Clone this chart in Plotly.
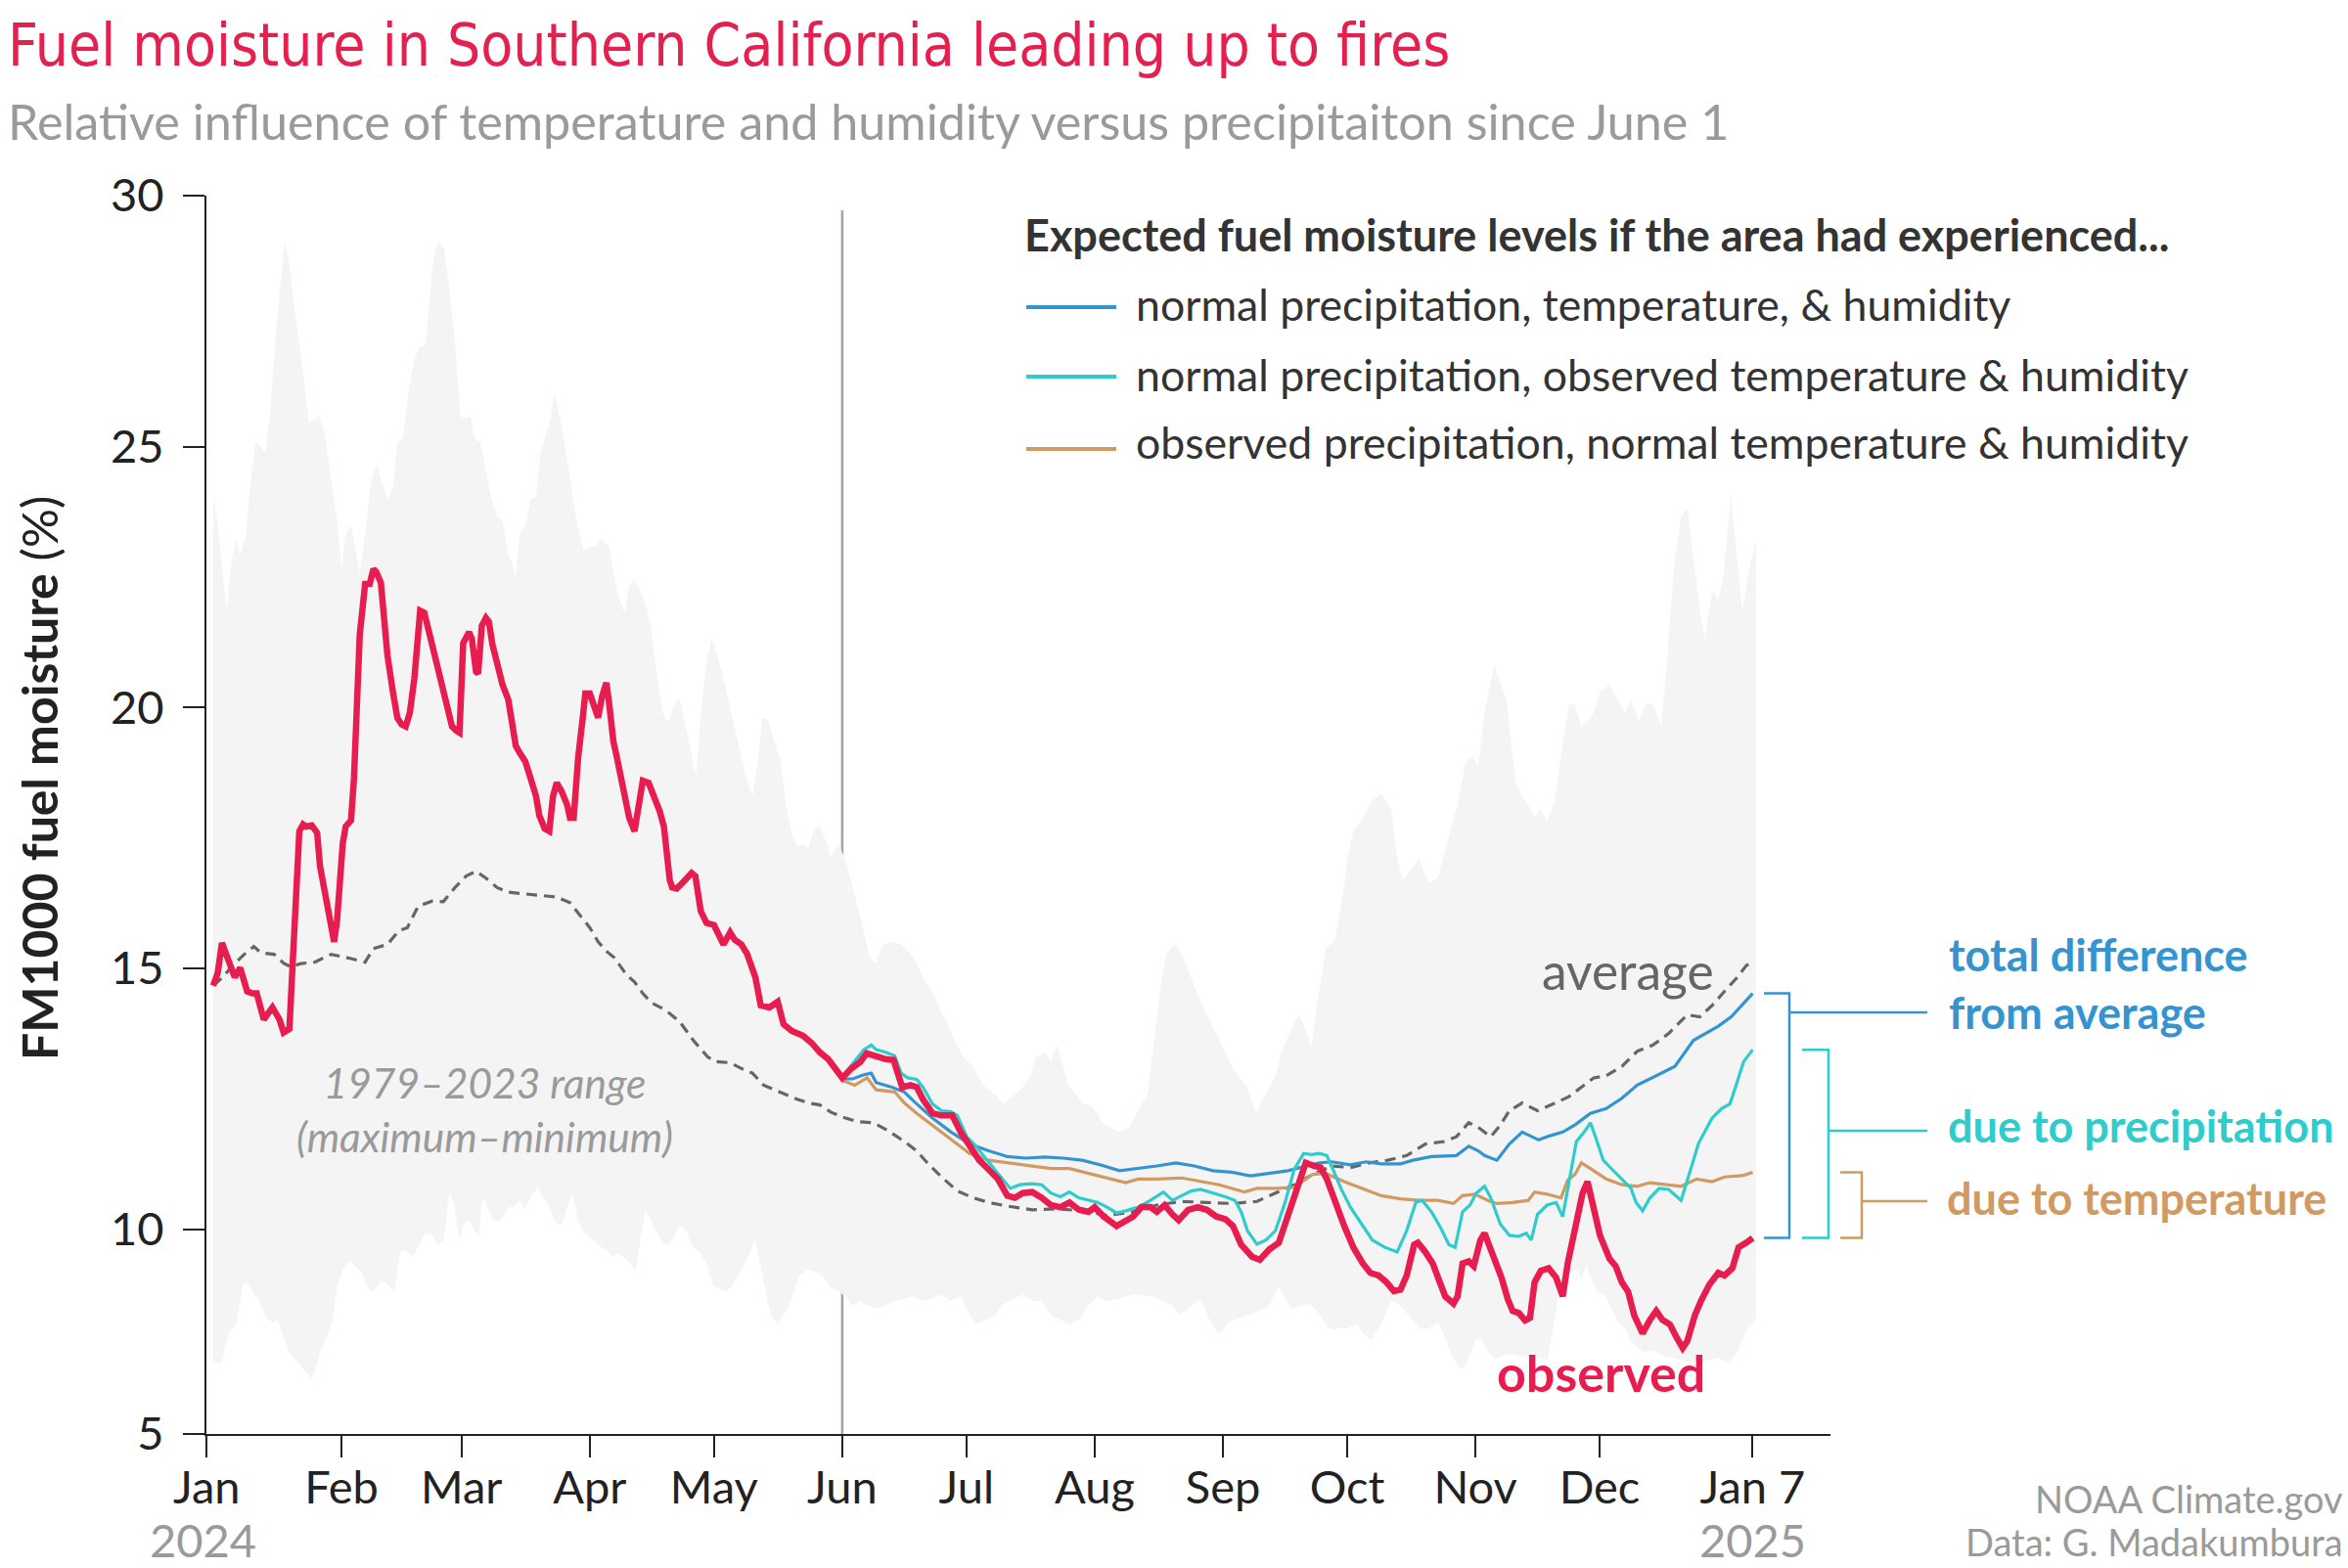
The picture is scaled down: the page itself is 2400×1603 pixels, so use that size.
import datetime as dt
import plotly.graph_objects as go

BASE = dt.datetime(2024, 1, 1)

# ---------------- data (day offsets from 2024-01-01, FM1000 fuel moisture %) -------------
obs_days = [0, 1.1, 2.1, 3.1, 5.2, 6.5, 8.2, 9.5, 10.5, 12.2, 14.3, 16, 17, 18.4, 19.7, 20.4, 20.8,
            21.7, 22.4, 23.8, 25.1, 25.8, 28.5, 29.2, 29.9, 30.6, 31.3, 32, 33.3, 34, 35.4, 36.7,
            37.8, 38.7, 39.4, 40.5, 41.4, 42.1, 43.4, 44.5, 45.5, 46.5, 47.5, 48.6, 50, 51, 51.9,
            53, 54.3, 55.7, 57, 57.7, 58.7, 59.5, 60.4, 61.8, 62.5, 63.5, 64, 64.9, 65.9, 66.6,
            67.5, 68.6, 69.9, 71.3, 72.2, 73.1, 74, 75.4, 76.7, 78, 78.8, 80.1, 81.2, 82.1, 83,
            84.2, 85.5, 86.2, 87.1, 88.2, 89.3, 89.9, 91, 92, 93, 94, 95, 95.7, 96.7, 97.5, 98.4,
            99.4, 100.5, 101.8, 102.9, 103.8, 105.2, 106.6, 107.9, 108.9, 109.7, 110.3, 110.9,
            112, 113.4, 115.6, 116.5, 117.8, 119.2, 121, 123.3, 124.9, 126, 127.6, 129, 131,
            132.3, 134.4, 136.4, 137.8, 139.8, 142.5, 144.6, 146.6, 148.6, 150.7, 152, 154.2,
            156.4, 157.9, 160.2, 162.5, 164.4, 165.5, 166.5, 168.5, 170, 171.5, 173.8, 176,
            178.6, 180.6, 182.8, 185.1, 187.4, 189.6, 191.9, 193.7, 195.6, 197.9, 200.2, 202.4,
            204.7, 206.9, 209.2, 211.5, 213, 215.2, 218.3, 220.5, 222.3, 224.3, 226.5, 228,
            229.9, 231.8, 233.3, 235.6, 237.9, 240.1, 242.4, 244.6, 246.4, 248.4, 251, 252.9,
            255.2, 257.5, 259.7, 262, 264, 266, 267.6, 269.1, 271, 273.3, 275.5, 277.8, 279.6,
            281.6, 283.5, 285.3, 286.9, 288.4, 290.2, 291.1, 292.9, 294.7, 296.2, 297.7, 299.7,
            300.7, 301.9, 303.4, 304.6, 306.2, 307.2, 308.3, 309.8, 311.3, 312.8, 314, 315.5,
            317, 318.2, 319.3, 320.8, 322.7, 324.5, 326.1, 327.3, 329.1, 330.9, 332.1, 333.3,
            335.1, 337.4, 338.9, 340.4, 341.9, 343.4, 345.4, 347.2, 348.7, 350.2, 352, 353.5,
            355.1, 356.2, 358, 359.5, 361.5, 363.7, 365.2, 367.1, 368.6, 370.5, 372]
obs_vals = [14.67, 14.92, 15.49, 15.28, 14.83, 15.01, 14.56, 14.52, 14.52, 14.02, 14.25, 14.02, 13.77,
            13.84, 15.82, 16.73, 17.63, 17.76, 17.72, 17.74, 17.6, 16.96, 15.73, 15.51, 15.9, 16.73,
            17.4, 17.72, 17.84, 18.64, 21.4, 22.37, 22.37, 22.66, 22.6, 22.4, 21.57, 21.0, 20.31,
            19.8, 19.68, 19.64, 19.9, 20.56, 21.86, 21.82, 21.53, 21.15, 20.73, 20.31, 19.85, 19.64,
            19.56, 19.52, 21.24, 21.45, 21.32, 20.69, 20.65, 21.57, 21.72, 21.65, 21.2, 20.82, 20.44,
            20.15, 19.64, 19.27, 19.14, 18.97, 18.64, 18.3, 17.93, 17.68, 17.63, 18.3, 18.56, 18.39,
            18.14, 17.89, 17.89, 19.06, 19.81, 20.27, 20.27, 20.02, 19.81, 20.23, 20.48, 20.06, 19.35,
            19.06, 18.72, 18.3, 17.89, 17.63, 18.14, 18.6, 18.56, 18.3, 18.01, 17.72, 17.13, 16.7,
            16.55, 16.53, 16.64, 16.83, 16.77, 16.1, 15.87, 15.83, 15.46, 15.69, 15.55, 15.46, 15.28,
            14.83, 14.29, 14.25, 14.36, 13.93, 13.8, 13.71, 13.57, 13.39, 13.26, 13.03, 12.9, 13.08,
            13.21, 13.37, 13.3, 13.26, 13.24, 12.94, 12.72, 12.76, 12.72, 12.49, 12.22, 12.18, 12.18,
            11.86, 11.59, 11.32, 11.14, 10.96, 10.64, 10.6, 10.69, 10.71, 10.6, 10.46, 10.42, 10.51,
            10.37, 10.33, 10.42, 10.24, 10.06, 10.15, 10.24, 10.42, 10.42, 10.33, 10.46, 10.28, 10.17,
            10.37, 10.42, 10.37, 10.24, 10.19, 10.06, 9.7, 9.47, 9.41, 9.61, 9.74, 10.24, 10.78, 11.27,
            11.21, 11.18, 10.96, 10.51, 10.06, 9.65, 9.34, 9.16, 9.11, 8.98, 8.81, 8.84, 9.11, 9.7,
            9.74, 9.56, 9.34, 9.02, 8.71, 8.57, 8.71, 9.34, 9.38, 9.29, 9.79, 9.92, 9.7, 9.43, 9.07,
            8.66, 8.43, 8.39, 8.25, 8.3, 8.98, 9.2, 9.25, 9.07, 8.71, 9.34, 10.06, 10.69, 10.91, 10.51,
            9.88, 9.43, 9.29, 8.98, 8.8, 8.34, 8.0, 8.26, 8.43, 8.26, 8.17, 7.94, 7.72, 7.85, 8.34,
            8.62, 8.93, 9.16, 9.11, 9.25, 9.65, 9.74, 9.83]

avg_days = [0, 2.1, 4.8, 7.5, 9.8, 11.5, 14.7, 17, 18.7, 21.1, 24.5, 28.5, 32.6, 36.7, 38.7, 42.1,
            44.8, 46.9, 49.5, 52.9, 55.6, 58.4, 61.1, 63.5, 65.9, 68.6, 71.3, 74.7, 78.8, 82.8,
            86.2, 88.2, 91, 93, 95, 97, 99.8, 101.8, 103.8, 105.9, 109.3, 112.7, 116, 119.5, 121.5,
            124.9, 127.6, 130.3, 133, 135.7, 138.4, 141.1, 143.8, 146.6, 149.3, 152, 155.7, 159.5,
            163.2, 167, 170, 173, 176, 179.8, 183.6, 187.4, 191.9, 197.9, 204, 210, 216, 222, 228,
            234.1, 240.1, 246.1, 252.2, 256.7, 261.2, 265.7, 270.3, 274.8, 279.3, 283.8, 288.4,
            292.9, 297.4, 300.4, 303.4, 305.7, 308.7, 311, 313.2, 316.3, 320, 323.8, 327.6, 330.6,
            333.6, 336.6, 340.4, 344.1, 347.9, 351.7, 356.2, 359.2, 362.2, 365.2, 368.3, 370.5, 372]
avg_vals = [14.67, 14.82, 15.06, 15.27, 15.42, 15.3, 15.27, 15.1, 15.03, 15.09, 15.12, 15.27, 15.2,
            15.12, 15.38, 15.46, 15.72, 15.78, 16.19, 16.29, 16.28, 16.55, 16.77, 16.86, 16.73, 16.55,
            16.46, 16.43, 16.4, 16.37, 16.26, 16.05, 15.78, 15.51, 15.33, 15.2, 14.88, 14.74, 14.52,
            14.34, 14.2, 13.98, 13.62, 13.3, 13.21, 13.19, 13.08, 12.99, 12.76, 12.67, 12.58, 12.49,
            12.42, 12.38, 12.24, 12.15, 12.06, 12.04, 11.88, 11.68, 11.5, 11.23, 11.0, 10.73, 10.6,
            10.51, 10.44, 10.37, 10.39, 10.35, 10.26, 10.33, 10.46, 10.53, 10.51, 10.49, 10.53, 10.69,
            10.85, 11.05, 11.21, 11.18, 11.27, 11.32, 11.41, 11.63, 11.68, 11.77, 12.04, 11.95, 11.77,
            11.99, 12.27, 12.42, 12.27, 12.4, 12.54, 12.72, 12.9, 12.94, 13.12, 13.41, 13.53, 13.75,
            14.11, 14.07, 14.29, 14.56, 14.83, 15.06, 15.1]

blue_days = [152, 154.5, 157.2, 159, 160.2, 164, 167, 169.3, 173.8, 178.3, 182.8, 187.4, 191.9,
             196.4, 200.9, 205.4, 210, 214.5, 219, 223.5, 228, 232.6, 237.1, 241.6, 246.1, 250.7,
             255.2, 259.7, 264.2, 267.3, 270.3, 274.8, 278.6, 282.3, 286.9, 289.9, 294.4, 300.4,
             303.4, 305.7, 307.2, 310.2, 313.2, 316.3, 320.3, 323, 326.1, 329.1, 332.8, 336.6,
             340.4, 344.1, 348.7, 353.2, 357.7, 360.7, 363.7, 366.8, 369.8, 372]
blue_vals = [12.88, 12.88, 12.96, 12.99, 12.81, 12.72, 12.63, 12.45, 12.13, 11.86, 11.63, 11.5, 11.39,
             11.36, 11.38, 11.36, 11.32, 11.23, 11.12, 11.16, 11.21, 11.27, 11.21, 11.12, 11.09, 11.02,
             11.07, 11.12, 11.21, 11.27, 11.29, 11.23, 11.29, 11.25, 11.25, 11.32, 11.39, 11.41, 11.59,
             11.5, 11.41, 11.32, 11.63, 11.86, 11.71, 11.79, 11.86, 12.0, 12.22, 12.31, 12.51, 12.76,
             12.94, 13.12, 13.62, 13.75, 13.89, 14.07, 14.34, 14.52]

cyan_days = [152, 155, 157.2, 159, 160.2, 162.5, 164.7, 166.2, 167.8, 170, 171.5, 173.8, 176, 178.3,
             179.8, 182.1, 184.3, 186.6, 189.6, 192.6, 194.9, 197.9, 200.2, 202.4, 204.7, 206.9,
             209.2, 211.5, 213.7, 216, 218.3, 220.5, 223.5, 226.5, 229.6, 231.8, 234.1, 236.3,
             238.6, 241.6, 244.6, 246.9, 248.4, 249.9, 252.2, 254.4, 256.7, 259, 261.2, 263.5,
             265.4, 267.3, 269.1, 270.6, 272.5, 274.8, 277.1, 280.1, 283.1, 286.1, 288.4, 290.6,
             292.1, 294.4, 296.7, 298.6, 300.1, 301.9, 303.7, 305.2, 307.2, 308.7, 311, 313.2,
             315.5, 317.3, 318.5, 320, 322.3, 324.5, 326.1, 327.9, 329.4, 331.3, 332.8, 334.4,
             335.9, 338.1, 340.4, 342.6, 343.8, 345.4, 347.2, 349.4, 351.7, 353.5, 354.7, 357,
             358.9, 360.4, 362.2, 364.5, 366.5, 368, 369.8, 372]
cyan_vals = [12.92, 13.21, 13.44, 13.53, 13.44, 13.39, 13.32, 12.99, 12.9, 12.87, 12.72, 12.4, 12.27,
             12.25, 12.18, 11.77, 11.59, 11.36, 11.07, 10.78, 10.85, 10.87, 10.85, 10.69, 10.62, 10.71,
             10.6, 10.55, 10.51, 10.42, 10.31, 10.35, 10.42, 10.55, 10.71, 10.55, 10.64, 10.73, 10.76,
             10.69, 10.62, 10.55, 10.33, 9.97, 9.71, 9.79, 9.97, 10.51, 11.14, 11.45, 11.43, 11.45,
             11.41, 11.14, 10.78, 10.42, 10.15, 9.79, 9.65, 9.56, 9.97, 10.51, 10.55, 10.33, 10.01, 9.7,
             9.65, 10.33, 10.46, 10.69, 10.82, 10.6, 10.1, 9.88, 9.86, 9.92, 9.79, 10.28, 10.46, 10.51,
             10.24, 11.05, 11.68, 11.86, 12.04, 11.68, 11.32, 11.14, 10.96, 10.78, 10.51, 10.35, 10.6,
             10.78, 10.76, 10.64, 10.55, 11.14, 11.64, 11.86, 12.13, 12.31, 12.4, 12.76, 13.21, 13.44]

tan_days = [152, 155, 158, 160.2, 164.7, 167, 170, 173.8, 178.3, 182.8, 187.4, 191.9, 197.9, 202.4,
            206.9, 211.5, 216, 220.5, 223.5, 228, 234.1, 238.6, 243.1, 249.2, 252.2, 256.7, 261.2,
            265.7, 268.8, 273.3, 277.8, 282.3, 286.9, 291.4, 295.9, 299.7, 301.9, 304.9, 308,
            310.2, 314, 317.8, 319.3, 322.3, 325.7, 327.3, 329.1, 330.6, 332.8, 336.6, 340.4,
            344.1, 347.2, 351.7, 354.7, 358.5, 362.2, 365.2, 369.8, 372]
tan_vals = [12.85, 12.76, 12.9, 12.67, 12.63, 12.42, 12.22, 11.99, 11.72, 11.45, 11.32, 11.27, 11.21,
            11.16, 11.16, 11.07, 10.98, 10.89, 10.96, 10.96, 10.98, 10.91, 10.85, 10.71, 10.78, 10.78,
            10.8, 11.05, 11.07, 10.91, 10.78, 10.64, 10.58, 10.55, 10.55, 10.49, 10.64, 10.67, 10.55,
            10.49, 10.51, 10.55, 10.71, 10.67, 10.6, 10.94, 11.05, 11.27, 11.16, 10.96, 10.85, 10.82,
            10.89, 10.85, 10.82, 10.96, 10.91, 11.0, 11.03, 11.09]

max_days = [0, 1.4, 2.5, 3.3, 4.1, 5.5, 6.5, 7.9, 8.8, 10.2, 11.6, 12.5, 13.6, 15, 16.3, 17.3, 18.4,
            19.7, 21.7, 23.1, 24.2, 25.6, 26.9, 28.5, 29.9, 31, 32, 33.3, 35.4, 37, 38.1, 39.4, 40.8,
            42.1, 43.5, 44.5, 45.9, 47.3, 48.6, 50, 51.3, 52.3, 53.2, 54.3, 55.7, 57, 58.4, 59.7,
            60.8, 62.2, 63.1, 64.5, 65.9, 67.2, 68.6, 69.9, 71.3, 72.2, 73.1, 74, 75.4, 76.7, 78, 79,
            80.1, 81.4, 82.5, 83.9, 85.2, 86.6, 88, 89.6, 91, 92.4, 93.7, 95.7, 97.1, 98.5, 99.4,
            100.5, 101.5, 103.2, 104.5, 105.9, 106.6, 108.6, 110, 111.3, 112.7, 113.7, 115.4, 116.7,
            118.1, 119.4, 120.5, 121.9, 123.5, 124.9, 126.2, 127.6, 128.9, 130.3, 131.6, 132.7,
            134.1, 135.4, 137.1, 138.4, 139.8, 141.1, 142.8, 143.8, 145.2, 146.6, 147.9, 149.3, 151,
            152.7, 155.7, 158.7, 160.2, 161.7, 164, 166.2, 168.5, 170, 172, 173.8, 175.6, 177.1,
            179.1, 181.3, 183.6, 186.1, 188.9, 191.1, 193.7, 195.6, 197.6, 198.7, 200.9, 202.4,
            203.9, 205.4, 206.6, 208.5, 210.3, 212.2, 213.7, 214.8, 216.7, 219, 221.3, 223.5, 225.8,
            227.3, 228.8, 230.3, 232.3, 234.1, 237.1, 240.1, 242.4, 244.6, 246.1, 247.7, 249.9,
            251.9, 253.7, 256.7, 258.2, 260.5, 262.4, 263.9, 265.4, 266.5, 268, 268.8, 271, 273.3,
            274, 275.5, 277.8, 280.1, 282.3, 284.6, 286.1, 287.5, 289.5, 291.4, 293.6, 295.9, 297.4,
            298.9, 300.4, 302.7, 304.2, 305.7, 307.2, 309.5, 311, 312.5, 314.7, 316.3, 317.8, 319.3,
            320.8, 322.3, 324.2, 326.1, 327.6, 329.1, 330.6, 332.1, 333.6, 335.1, 337.4, 339.3,
            341.1, 342.6, 344.4, 346.4, 347.9, 349.9, 351.4, 352.9, 354.7, 356.2, 357.7, 359.2,
            360.4, 362.2, 363.7, 364.9, 366.7, 368, 369.5, 371, 372.8]
max_vals = [24.08, 23.33, 22.41, 21.82, 22.66, 23.25, 22.91, 23.33, 24.17, 25.09, 25.0, 24.88, 25.51,
            27.0, 28.19, 28.94, 28.52, 27.6, 26.43, 25.47, 25.51, 25.59, 25.26, 24.33, 23.58, 22.66,
            23.33, 23.5, 22.57, 23.5, 24.33, 24.67, 24.33, 24.0, 24.25, 25.09, 25.17, 26.18, 26.68,
            26.93, 26.97, 27.77, 28.61, 28.94, 28.82, 28.1, 27.01, 25.59, 25.55, 25.59, 25.17, 25.09,
            24.5, 24.0, 23.66, 23.58, 22.91, 22.78, 22.49, 23.33, 23.5, 24.0, 24.04, 24.84, 25.17,
            25.51, 26.05, 25.51, 24.92, 24.17, 23.5, 23.01, 23.08, 23.08, 23.25, 23.08, 22.41, 21.99,
            21.82, 22.32, 22.45, 22.28, 21.99, 21.49, 20.98, 19.9, 19.73, 20.06, 20.19, 19.81, 19.14,
            18.68, 20.15, 20.98, 21.32, 20.98, 20.48, 19.98, 19.56, 19.06, 18.64, 18.3, 18.97, 19.81,
            19.77, 19.39, 18.97, 18.14, 17.59, 17.34, 17.38, 17.3, 17.68, 17.72, 17.47, 17.13, 17.4,
            17.09, 16.19, 15.2, 15.1, 15.46, 15.51, 15.46, 15.28, 15.1, 14.74, 14.56, 14.2, 14.02,
            13.62, 13.3, 13.12, 12.76, 12.58, 12.4, 12.58, 12.72, 12.94, 13.3, 13.39, 13.21, 13.53,
            13.12, 12.76, 12.58, 12.4, 12.36, 12.22, 12.04, 11.95, 11.86, 11.95, 12.27, 12.58, 13.57,
            14.56, 15.28, 15.46, 15.28, 14.65, 14.11, 13.75, 13.39, 13.12, 12.94, 12.72, 12.22, 12.49,
            12.94, 13.39, 13.84, 14.11, 13.84, 13.48, 14.2, 14.92, 15.37, 15.55, 16.55, 17.09, 17.63,
            17.89, 18.22, 18.35, 18.05, 17.13, 16.7, 16.9, 17.09, 16.64, 16.73, 17.18, 17.63, 18.05,
            18.97, 19.06, 18.89, 19.9, 20.82, 20.48, 20.15, 18.56, 18.3, 18.14, 17.89, 18.05, 17.8,
            18.22, 19.31, 20.06, 20.06, 19.64, 19.73, 19.9, 20.31, 20.44, 20.15, 19.9, 20.15, 19.73,
            20.1, 20.06, 19.64, 20.98, 22.66, 23.66, 23.83, 22.91, 21.9, 21.32, 22.24, 22.07, 22.49,
            24.08, 23.0, 21.82, 22.6, 23.2]

# 1979-2023 minimum: (day offset, value) pairs
min_points = [
    (0, 7.44), (2.1, 7.44), (3, 7.8), (4.1, 8.07), (5.5, 8.16), (7.1, 8.93), (8.2, 8.98), (9.5, 8.8),
    (11.2, 8.62), (12.9, 8.3), (14.3, 8.21), (15.6, 8.26), (17, 7.94), (18.4, 7.63), (20.4, 7.44),
    (22.4, 7.26), (23.8, 7.13), (24.9, 7.35), (25.8, 7.67), (27.2, 7.89), (28.8, 8.26), (29.9, 8.89),
    (31.5, 9.25), (32.9, 9.38), (34.2, 9.29), (36, 9.16), (37.4, 8.84), (38.7, 8.8), (40.5, 9.02),
    (42.1, 8.93), (43.8, 8.8), (45.1, 9.56), (46.2, 9.61), (48.2, 9.47), (49.5, 9.65), (51.3, 9.92),
    (52.7, 9.88), (54.3, 9.7), (55.7, 9.79), (57, 10.69), (58.1, 10.51), (59.5, 9.79), (60.4, 10.06),
    (61.8, 10.19), (63.1, 9.97), (64.1, 9.88), (65.1, 10.6), (66.2, 10.42), (67.6, 10.19), (69, 10.15),
    (70.3, 10.26), (71.3, 10.42), (72.6, 10.42), (74, 10.55), (75.4, 10.37), (76.7, 10.64), (78.5, 10.8),
    (79.8, 10.6), (81.2, 10.42), (82.5, 10.15), (84.2, 10.06), (85.5, 10.42), (86.9, 10.69), (88.2, 10.15),
    (89.6, 9.92), (91.2, 9.83), (93, 9.7), (94.7, 9.61), (96.4, 9.47), (97.7, 9.52), (99.1, 9.47),
    (100.7, 9.34), (102.1, 9.2), (103.2, 9.79), (104.5, 10.37), (105.9, 10.15), (107.2, 9.92),
    (108.6, 9.74), (110, 9.7), (111.3, 9.83), (112.7, 10.06), (114.3, 9.97), (115.6, 9.7), (117.4, 9.56),
    (119.2, 9.34), (120.8, 8.93), (122.4, 8.84), (124.2, 8.8), (125.5, 8.93), (126.9, 9.11), (128.2, 9.29),
    (129.6, 9.52), (130.9, 9.79), (132.3, 9.25), (133.6, 8.8), (134.7, 8.35), (136.4, 8.17), (137.8, 8.35),
    (139.5, 8.6), (141.5, 9.1), (143.5, 9.22), (145.5, 9.18), (147.5, 9.08), (149, 8.9), (151.2, 8.8),
    (152.7, 8.71), (154.5, 8.53), (156.4, 8.62), (158.4, 8.53), (160.2, 8.48), (162.5, 8.53), (164.7, 8.62),
    (167, 8.66), (169.3, 8.71), (171.5, 8.62), (173.8, 8.66), (176, 8.75), (178.3, 8.62), (180.6, 8.71),
    (182.8, 8.35), (184.6, 8.17), (186.6, 8.26), (188.9, 8.35), (191.1, 8.57), (193.4, 8.66), (195.6, 8.75),
    (197.9, 8.62), (200.2, 8.62), (202.4, 8.35), (204.7, 8.26), (206.9, 8.17), (209.2, 8.26), (211.5, 8.53),
    (213.7, 8.71), (215.6, 8.62), (218, 8.65), (222.7, 8.75), (227.4, 8.7), (231.4, 8.56), (233.7, 8.37),
    (236.1, 8.5), (238.1, 8.65), (239.2, 8.56), (240.8, 8.25), (242.8, 8.0), (244, 8.06), (245.2, 8.21),
    (248.7, 8.31), (252.6, 8.43), (255, 8.5), (257.4, 8.9), (258.5, 8.75), (260.5, 8.47), (262.9, 8.53),
    (264.8, 8.56), (266.8, 8.43), (269.2, 8.12), (270.7, 8.06), (272.3, 8.12), (273.9, 8.09), (276.3, 8.18),
    (277.9, 8.0), (279.8, 7.87), (281.8, 8.12), (284.6, 8.62), (286.5, 8.56), (289.3, 8.31), (291.6, 8.09),
    (293.6, 8.09), (296, 8.21), (297.6, 7.93), (299.1, 7.62), (300.7, 7.37), (301.9, 7.31), (303.4, 7.53),
    (304.9, 7.85), (306.4, 7.89), (308, 7.67), (309.8, 7.49), (311.7, 7.58), (314, 7.6), (316.3, 7.58),
    (318.5, 7.55), (320.8, 7.52), (322.5, 7.5), (325, 8.68), (327.4, 9.13), (329.5, 9.24), (330.7, 9.05),
    (331.8, 9.31), (333, 9.05), (334.5, 8.81), (336.2, 8.75), (337.8, 8.5), (339.3, 8.25), (340.9, 8.11),
    (343.2, 7.8), (345.7, 7.63), (347.9, 7.67), (350.2, 7.58), (352.4, 7.53), (354.7, 7.49), (357, 7.44),
    (359.2, 7.44), (361.5, 7.49), (363.7, 7.53), (366, 7.44), (368.3, 7.63), (370.5, 8.08), (372.8, 8.26),
]
min_days = [p[0] for p in min_points]
min_vals = [p[1] for p in min_points]

month_tick_days = [-1.6, 31, 60, 91, 121, 152, 182, 213, 244, 274, 305, 335, 372]
month_tick_text = ["Jan", "Feb", "Mar", "Apr", "May", "Jun", "Jul", "Aug", "Sep", "Oct", "Nov", "Dec", "Jan 7"]
y_tick_vals = [6.07, 10, 15, 20, 25, 29.82]
y_tick_text = ["5", "10", "15", "20", "25", "30"]
x_range_days = [-1.65, 390.8]
y_range = [6.07, 29.82]
jun_line_day = 152

legend_items = ["normal precipitation, temperature, & humidity",
                "normal precipitation, observed temperature & humidity",
                "observed precipitation, normal temperature & humidity"]

# ---------------- styles -----------------
RED = "#e81d4f"
BLUE = "#3594cf"
CYAN = "#2ecccc"
TAN = "#d09a62"
AVG = "#666666"
BAND = "#f4f4f4"
GRAY = "#9a9a9a"
DARK = "#333333"
FONT = "Lato, 'Noto Sans', sans-serif"
TITLE_FONT = "'DejaVu Sans Condensed', Roboto, sans-serif"

W, H = 2400, 1603
L, R, T, B = 211, 529, 200, 137
PW, PH = W - L - R, H - T - B


def px(X):
    return (X - L) / PW


def py(Y):
    return (H - B - Y) / PH


def dates(days):
    return [BASE + dt.timedelta(days=d) for d in days]


fig = go.Figure()

band_x = dates(max_days) + dates(min_days[::-1])
band_y = max_vals + min_vals[::-1]
fig.add_trace(go.Scatter(x=band_x, y=band_y, fill="toself", fillcolor=BAND, mode="lines",
                         line=dict(width=0, color=BAND), hoverinfo="skip", showlegend=False))
fig.add_trace(go.Scatter(x=dates(avg_days), y=avg_vals, mode="lines",
                         line=dict(color=AVG, width=3.2, dash="11px,7px"), showlegend=False))
fig.add_trace(go.Scatter(x=dates(tan_days), y=tan_vals, mode="lines",
                         line=dict(color=TAN, width=3.2), showlegend=False))
fig.add_trace(go.Scatter(x=dates(blue_days), y=blue_vals, mode="lines",
                         line=dict(color=BLUE, width=3.2), showlegend=False))
fig.add_trace(go.Scatter(x=dates(cyan_days), y=cyan_vals, mode="lines",
                         line=dict(color=CYAN, width=3.2), showlegend=False))
fig.add_trace(go.Scatter(x=dates(obs_days), y=obs_vals, mode="lines",
                         line=dict(color=RED, width=6.5), showlegend=False))

shapes = []
# June 1 divider
shapes.append(dict(type="line", xref="x", yref="paper", x0=dates([jun_line_day])[0], x1=dates([jun_line_day])[0],
                   y0=0, y1=py(215), line=dict(color="#a3a3a3", width=2.5), layer="below"))

# legend lines
for Y, c in zip([314, 385, 459], [BLUE, CYAN, TAN]):
    shapes.append(dict(type="line", xref="paper", yref="paper", x0=px(1049), x1=px(1141),
                       y0=py(Y), y1=py(Y), line=dict(color=c, width=4)))

# brackets on the right (tied to the end values of each series)
end_obs = obs_vals[-1]
for (xl, xv, top, col, conY) in [(1803, 1829, blue_vals[-1], BLUE, 1035),
                                 (1842, 1869, cyan_vals[-1], CYAN, 1156),
                                 (1881, 1903, tan_vals[-1], TAN, 1228)]:
    x0p, x1p = px(xl), px(xv)
    shapes.append(dict(type="path", xref="paper", yref="y",
                       path=f"M {x0p},{top} L {x1p},{top} L {x1p},{end_obs} L {x0p},{end_obs}",
                       line=dict(color=col, width=2.5)))
    shapes.append(dict(type="line", xref="paper", yref="paper", x0=x1p, x1=px(1970),
                       y0=py(conY), y1=py(conY), line=dict(color=col, width=2.5)))

ann = []


def add_text(text, X, Y, size, color, xanchor="left", family=FONT, weight=None, italic=False, angle=0):
    f = dict(family=family, size=size, color=color)
    if weight:
        f["weight"] = weight
    if italic:
        f["style"] = "italic"
    ann.append(dict(text=text, xref="paper", yref="paper", x=px(X), y=py(Y), xanchor=xanchor,
                    yanchor="middle", showarrow=False, font=f, textangle=angle,
                    align=xanchor if xanchor != "center" else "center"))


add_text("Fuel moisture in Southern California leading up to fires", 6, 46, 60, "#e5204f", family=TITLE_FONT)
add_text("Relative influence of temperature and humidity versus precipitaiton since June 1", 6, 124, 50.3, GRAY)
add_text("<b>FM1000 fuel moisture</b> (%)", 40, 796, 50, "#222222", xanchor="center", angle=-90)
add_text("Expected fuel moisture levels if the area had experienced...", 1045, 240, 45, DARK, weight="bold")
for txt, Y in zip(legend_items, [310, 382, 452]):
    add_text(txt, 1159, Y, 44.6, DARK)
add_text("total difference<br>from average", 1990, 1006, 45, BLUE, weight="bold")
add_text("due to precipitation", 1989, 1151, 45, CYAN, weight="bold")
add_text("due to temperature", 1988, 1225, 45, TAN, weight="bold")
add_text("observed", 1636, 1403, 52, RED, xanchor="center", weight="bold")
add_text("average", 1664, 992, 51.5, AVG, xanchor="center")
add_text("1979–2023 range<br>(maximum–minimum)", 495, 1134, 42.5, GRAY, xanchor="center", italic=True)
add_text("2024", 207, 1574, 47, GRAY, xanchor="center")
add_text("2025", 1791, 1574, 47, GRAY, xanchor="center")
add_text("NOAA Climate.gov", 2397, 1532, 38, GRAY, xanchor="right")
add_text("Data: G. Madakumbura", 2397, 1576, 38, GRAY, xanchor="right")

fig.update_layout(
    width=W, height=H, margin=dict(l=L, r=R, t=T, b=B),
    paper_bgcolor="white", plot_bgcolor="white",
    shapes=shapes, annotations=ann, showlegend=False,
    xaxis=dict(type="date", range=[dates([x_range_days[0]])[0], dates([x_range_days[1]])[0]],
               tickvals=dates(month_tick_days), ticktext=month_tick_text,
               showgrid=False, zeroline=False, showline=True, linecolor="#222222", linewidth=2,
               ticks="outside", ticklen=22, tickwidth=2, tickcolor="#222222", ticklabelstandoff=-9,
               tickfont=dict(family=FONT, size=47, color="#222222")),
    yaxis=dict(range=y_range, tickvals=y_tick_vals, ticktext=y_tick_text,
               showgrid=False, zeroline=False, showline=True, linecolor="#222222", linewidth=2,
               ticks="outside", ticklen=22, tickwidth=2, tickcolor="#222222", ticklabelstandoff=10,
               tickfont=dict(family=FONT, size=47, color="#222222")),
)

fig.write_html("out.html")
